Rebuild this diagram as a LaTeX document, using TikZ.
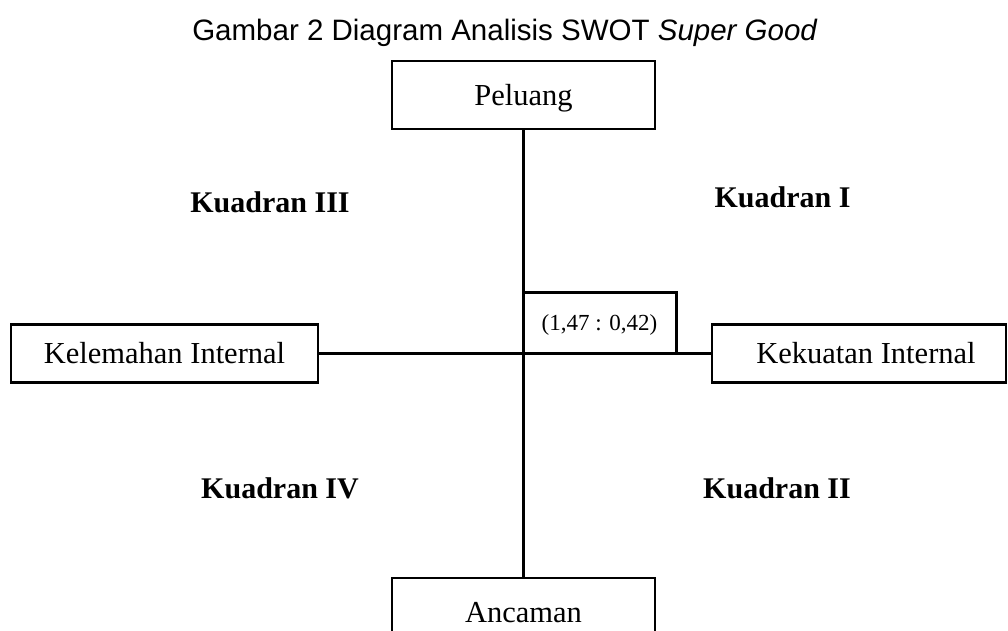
\documentclass[tikz,border=0pt]{standalone}
\usepackage{fontspec}
\setmainfont{Liberation Serif}
\newfontfamily\titlefont{Liberation Sans}
\begin{document}
\begin{tikzpicture}[x=1pt,y=-1pt,
  boxnode/.style={draw=black, line width=2.1pt, inner sep=0pt, text height=20.5pt, text depth=0pt,
    font=\fontsize{30.5}{36}\selectfont},
  quadlabel/.style={anchor=base, inner sep=0pt, font=\fontsize{30}{36}\selectfont\bfseries},
  axis/.style={line width=2.1pt}
]
\useasboundingbox (0,0) rectangle (1008,630);
\clip (0,0) rectangle (1008,630);

\node[anchor=base, inner sep=0pt, font=\titlefont\fontsize{29.5}{34}\selectfont] (title) at (505,40)
  {Gambar 2 Diagram Analisis SWOT \textit{Super Good}};

\node[boxnode, minimum width=263pt, minimum height=68pt] (peluang) at (523.5,95) {Peluang};
\node[boxnode, minimum width=263pt, minimum height=68pt] (ancaman) at (523.5,612) {Ancaman};
\node[boxnode, minimum width=307pt, minimum height=58pt] (kelemahan) at (164.5,353.5) {Kelemahan Internal};
\node[boxnode, minimum width=294pt, minimum height=58pt] (kekuatan) at (859,353.5) {\hspace*{14pt}Kekuatan Internal};

\draw[axis] (peluang.south) -- (ancaman.north);
\draw[axis] (kelemahan.east) -- (kekuatan.west);

\node[inner sep=0pt, minimum width=153pt, minimum height=60pt, text height=15.5pt, text depth=0pt,
  font=\fontsize{23}{27}\selectfont] (result) at (599.5,323) {(1,47 : 0,42)};
\draw[line width=3pt] (result.north west) -- (result.north east) -- (result.south east);

\node[quadlabel] (q3) at (270,212) {Kuadran III};
\node[quadlabel] (q1) at (782.5,207) {Kuadran I};
\node[quadlabel] (q4) at (280,498) {Kuadran IV};
\node[quadlabel] (q2) at (777,498) {Kuadran II};
\end{tikzpicture}
\end{document}
